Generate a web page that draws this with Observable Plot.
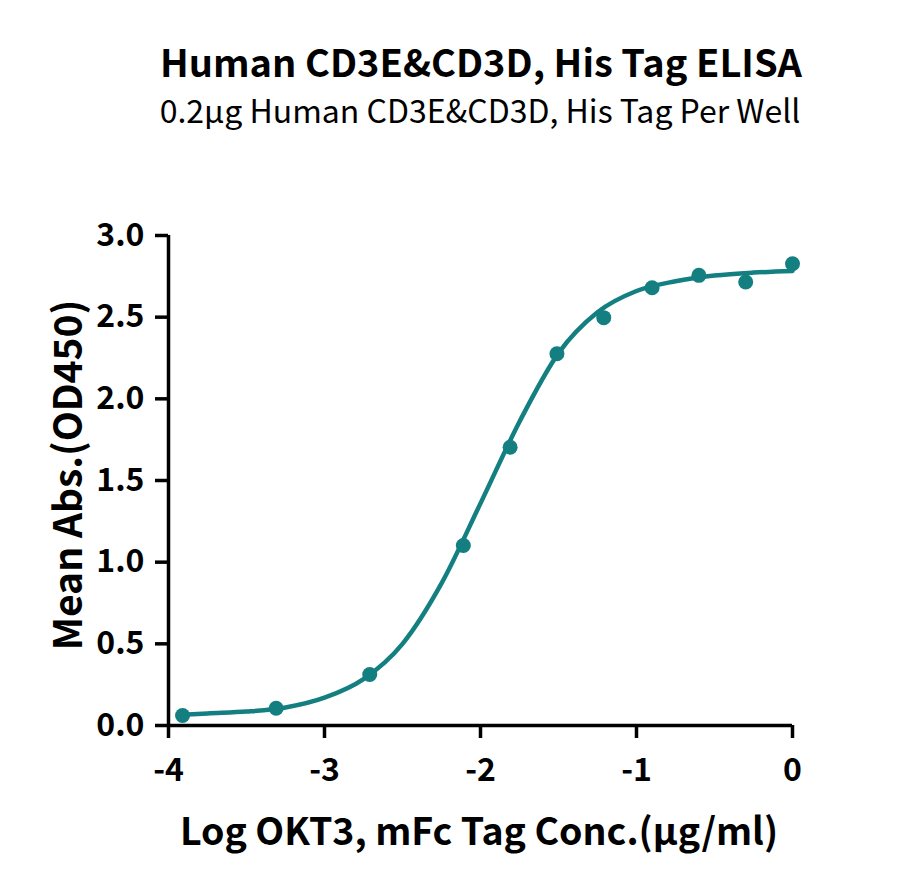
<!DOCTYPE html>
<html><head><meta charset="utf-8">
<script src="https://cdn.jsdelivr.net/npm/d3@7"></script>
<script src="https://cdn.jsdelivr.net/npm/@observablehq/plot@0.6"></script>
<style>
body{margin:0;background:#fff;font-family:"Noto Sans CJK SC","Noto Sans",sans-serif;color:#000;}
#head{position:relative;width:900px;height:140px;}
#title{position:absolute;left:481px;transform:translateX(-50%);white-space:nowrap;top:42px;font-size:38px;font-weight:bold;line-height:1;}
#sub{position:absolute;left:480px;transform:translateX(-50%);white-space:nowrap;top:93px;font-size:32px;font-weight:normal;line-height:1;}
#chart svg{display:block;}
</style></head><body>
<div id="head"><div id="title">Human CD3E&amp;CD3D, His Tag ELISA</div><div id="sub">0.2μg Human CD3E&amp;CD3D, His Tag Per Well</div></div>
<div id="chart"></div>
<script>
const xTicks = [-4, -3, -2, -1, 0];
const yTicks = [0, 0.5, 1, 1.5, 2, 2.5, 3];
const logConc = [-3.91, -3.31, -2.71, -2.11, -1.81, -1.51, -1.21, -0.90, -0.60, -0.30, 0];
const meanAbs = [0.061, 0.106, 0.312, 1.102, 1.704, 2.276, 2.497, 2.680, 2.756, 2.715, 2.827];
const fitX = [-3.91, -3.75, -3.5, -3.25, -3.0, -2.75, -2.5, -2.25, -2.0, -1.75, -1.5, -1.25, -1.0, -0.75, -0.5, -0.25, 0];
const fitY = [0.066, 0.074, 0.085, 0.11, 0.17, 0.284, 0.50, 0.87, 1.36, 1.86, 2.28, 2.53, 2.66, 2.72, 2.755, 2.773, 2.783];
const xLabel = "Log OKT3, mFc Tag Conc.(μg/ml)";
const yLabel = "Mean Abs.(OD450)";

const teal = "#137f80";
const points = logConc.map((x, i) => ({x, y: meanAbs[i]}));
const fit = fitX.map((x, i) => ({x, y: fitY[i]}));
const FONT = '"Noto Sans CJK SC","Noto Sans",sans-serif';

const plot = Plot.plot({
  width: 900, height: 748,
  marginLeft: 168, marginRight: 108, marginTop: 95, marginBottom: 163,
  x: {domain: [-4, 0]},
  y: {domain: [0, 3]},
  style: {fontFamily: FONT, fontSize: "32px", fontWeight: "bold", background: "white", color: "black", overflow: "visible"},
  marks: [
    Plot.axisX({ticks: xTicks, tickSize: 13, tickPadding: 20, strokeWidth: 3.5, label: null, tickFormat: d => String(d)}),
    Plot.axisY({ticks: yTicks, tickSize: 13, tickPadding: 11, strokeWidth: 3.5, label: null, tickFormat: d => d.toFixed(1)}),
    Plot.ruleX([-4], {y1: 0, y2: 3, strokeWidth: 3.5, stroke: "black"}),
    Plot.ruleY([0], {x1: -4, x2: 0, strokeWidth: 3.5, stroke: "black"}),
    Plot.line(fit, {x: "x", y: "y", curve: "monotone-x", stroke: teal, strokeWidth: 4.5}),
    Plot.dot(points, {x: "x", y: "y", r: 7.5, fill: teal, stroke: "none"})
  ]
});
document.getElementById("chart").appendChild(plot);
const svg = d3.select(plot);
svg.append("text").attr("x", 479).attr("y", 705).attr("text-anchor", "middle")
  .attr("font-size", 37.5).attr("font-weight", "bold").attr("font-family", FONT).attr("fill", "black").text(xLabel);
svg.append("text").attr("transform", "translate(82,335) rotate(-90)").attr("text-anchor", "middle")
  .attr("font-size", 39).attr("font-weight", "bold").attr("font-family", FONT).attr("fill", "black").text(yLabel);
</script>
</body></html>
